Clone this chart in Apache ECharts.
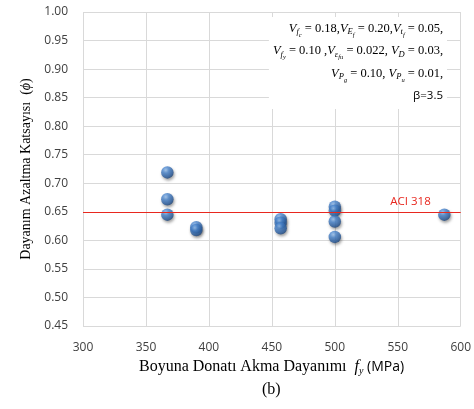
<!DOCTYPE html>
<html><head><meta charset="utf-8">
<script src="https://cdn.jsdelivr.net/npm/echarts@6/dist/echarts.min.js"></script>
<style>html,body{margin:0;padding:0;background:#fff}#c{width:474px;height:409px}</style>
</head><body><div id="c"></div>
<script>
// Data
const fyValues  = [367, 367, 367, 390, 390, 457, 457, 457, 500, 500, 500, 500, 587];
const phiValues = [0.719, 0.672, 0.645, 0.623, 0.618, 0.637, 0.631, 0.621, 0.659, 0.652, 0.633, 0.606, 0.645];
const aciValue = 0.65;
const aciLabel = 'ACI 318';
const xTicks = [300, 350, 400, 450, 500, 550, 600];
const yTicks = [0.45, 0.50, 0.55, 0.60, 0.65, 0.70, 0.75, 0.80, 0.85, 0.90, 0.95, 1.00];

const points = fyValues.map((x, i) => [x, phiValues[i]]);
const chart = echarts.init(document.getElementById('c'));
const serif = '"Liberation Serif", "DejaVu Serif", serif';
const sans = '"Open Sans", "Liberation Sans", sans-serif';

const sphere = new echarts.graphic.RadialGradient(0.38, 0.32, 0.7, [
  {offset: 0, color: '#9cc4f0'},
  {offset: 0.35, color: '#4a86cf'},
  {offset: 0.8, color: '#2a5d9f'},
  {offset: 1, color: '#1d4478'}
]);

const rich = {
  i: {fontFamily: serif, fontStyle: 'italic', fontSize: 12.5, color: '#000', lineHeight: 22.5, align: 'right'},
  n: {fontFamily: serif, fontSize: 12.5, color: '#000', lineHeight: 22.5, align: 'right'},
  b: {fontFamily: sans, fontSize: 11.5, color: '#000', lineHeight: 22.5, align: 'right'},
  s: {fontFamily: serif, fontStyle: 'italic', fontSize: 8.5, color: '#000', padding: [8, 0, 0, 0], align: 'right'},
  ss: {fontFamily: serif, fontStyle: 'italic', fontSize: 6.5, color: '#000', padding: [14, 0, 0, 0], align: 'right'}
};
const annot = [
  '{i|V}{s|f}{ss|c}{n| = 0.18,}{i|V}{s|E}{ss|f}{n| = 0.20,}{i|V}{s|t}{ss|f}{n| = 0.05,}',
  '{i|V}{s|f}{ss|y}{n| = 0.10 ,}{i|V}{s|ε}{ss|fu}{n| = 0.022, }{i|V}{s|D}{n| = 0.03,}',
  '{i|V}{s|P}{ss|g}{n| = 0.10, }{i|V}{s|P}{ss|u}{n| = 0.01,}',
  '{b|β=3.5}'
].join('\n');

chart.setOption({
  animation: false,
  grid: {left: 83, right: 13, top: 12, bottom: 83},
  xAxis: {
    type: 'value', min: xTicks[0], max: xTicks[xTicks.length - 1], interval: 50,
    axisLine: {show: false}, axisTick: {show: false},
    axisLabel: {margin: 16, fontFamily: sans, fontSize: 12, color: '#404040'},
    splitLine: {show: true, lineStyle: {color: '#d9d9d9', width: 1}}
  },
  yAxis: {
    type: 'value', min: yTicks[0], max: yTicks[yTicks.length - 1], interval: 0.05,
    axisLine: {show: false}, axisTick: {show: false},
    axisLabel: {margin: 15, fontFamily: sans, fontSize: 12, color: '#404040', formatter: v => v.toFixed(2)},
    splitLine: {show: true, lineStyle: {color: '#d9d9d9', width: 1}},
    name: '{t|Dayanım Azaltma Katsayısı  (}{p|ϕ}{t|)}', nameLocation: 'middle', nameGap: 50,
    nameTextStyle: {rich: {
      t: {fontFamily: serif, fontSize: 14, color: '#000'},
      p: {fontFamily: serif, fontStyle: 'italic', fontSize: 14, color: '#000'}
    }}
  },
  series: [{
    type: 'scatter', data: points, symbolSize: 12.5,
    itemStyle: {color: sphere, shadowBlur: 3, shadowOffsetX: 1, shadowOffsetY: 2, shadowColor: 'rgba(0,0,0,0.45)'},
    markLine: {
      silent: true, symbol: 'none',
      lineStyle: {color: '#e8281f', type: 'solid', width: 1.2},
      label: {show: true, position: 'insideEndTop', formatter: aciLabel, color: '#e8281f', fontFamily: sans, fontSize: 11.5, offset: [-25, 1]},
      data: [{yAxis: aciValue}]
    }
  }],
  graphic: [
    {type: 'text', right: 27, top: 17, z: 10, style: {text: annot, rich: rich, align: 'right', backgroundColor: '#fff', padding: [0, 4, 2, 4]}},
    {type: 'text', left: 139, top: 359, style: {
      text: '{t|Boyuna Donatı Akma Dayanımı  }{i|f}{s|y}{m| (MPa)}',
      rich: {
        t: {fontFamily: serif, fontSize: 16, color: '#000'},
        i: {fontFamily: serif, fontStyle: 'italic', fontSize: 16, color: '#000'},
        s: {fontFamily: serif, fontStyle: 'italic', fontSize: 10, color: '#000', padding: [8, 0, 0, 0]},
        m: {fontFamily: sans, fontSize: 14, color: '#000'}
      }}},
    {type: 'text', left: 262, top: 382, style: {text: '(b)', fontFamily: serif, fontSize: 16, fill: '#000'}}
  ]
});
</script></body></html>
